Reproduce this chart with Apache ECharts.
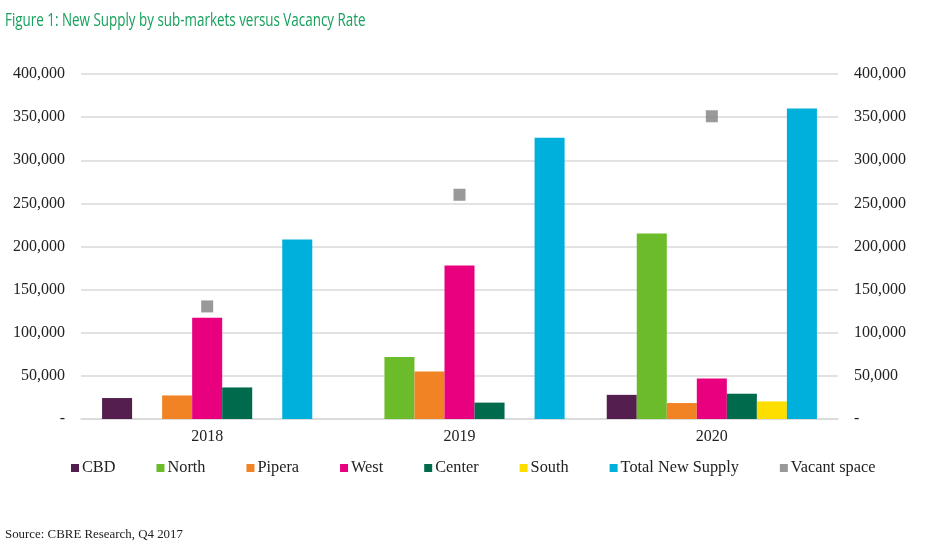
<!DOCTYPE html>
<html>
<head>
<meta charset="utf-8">
<script src="https://cdn.jsdelivr.net/npm/echarts@6/dist/echarts.min.js"></script>
<style>html,body{margin:0;padding:0;background:#fff}#c{width:942px;height:545px}</style>
</head>
<body>
<div id="c"></div>
<script>
var years = ['2018', '2019', '2020'];
var cbd = [24300, null, 28000];
var north = [null, 72000, 215000];
var pipera = [27300, 55000, 18500];
var west = [117500, 178000, 47000];
var center = [36600, 19000, 29300];
var south = [null, null, 20400];
var totalNewSupply = [208000, 326000, 360000];
var vacantSpace = [130500, 260000, 351000];
var yTicks = [0, 50000, 100000, 150000, 200000, 250000, 300000, 350000, 400000];

var colors = {
  cbd: '#541f4f', north: '#6cbb2a', pipera: '#f28325', west: '#e8007f',
  center: '#006a4d', south: '#fedd00', total: '#00b0dc', vacant: '#808080'
};
var serif = '"Liberation Serif", "DejaVu Serif", serif';

function fmt(v) {
  if (v === 0) return '-';
  return String(v).replace(/\B(?=(\d{3})+(?!\d))/g, ',');
}

function bar(name, data, color) {
  return {
    name: name, type: 'bar', data: data, barGap: '0%', barCategoryGap: '16.7%',
    itemStyle: { color: color }, yAxisIndex: 0
  };
}

var chart = echarts.init(document.getElementById('c'));
var yAxisBase = function (pos) {
  return {
    type: 'value', position: pos, min: yTicks[0], max: yTicks[yTicks.length - 1], interval: 50000,
    axisLine: { show: false }, axisTick: { show: false },
    splitLine: { show: pos === 'left', lineStyle: { color: '#d9d9d9', width: 1.5 } },
    axisLabel: { formatter: fmt, color: '#222', fontFamily: serif, fontSize: 16, margin: 16 }
  };
};
chart.setOption({
  animation: false,
  color: [colors.cbd, colors.north, colors.pipera, colors.west, colors.center, colors.south, colors.total, colors.vacant],
  graphic: [{
    type: 'text', x: 5, y: 12, scaleX: 0.745, originX: 0, originY: 0,
    style: {
      text: 'Figure 1: New Supply by sub-markets versus Vacancy Rate',
      fill: '#16a05c', font: 'normal 18px "Open Sans", sans-serif'
    }
  }],
  title: [{
    text: 'Source: CBRE Research, Q4 2017',
    left: 0, top: 523,
    textStyle: { color: '#222', fontSize: 12.9, fontWeight: 'normal', fontFamily: serif }
  }],
  legend: {
    left: 66, top: 455, itemWidth: 8, itemHeight: 8, itemGap: 41, icon: 'rect',
    textStyle: { color: '#222', fontFamily: serif, fontSize: 16.3, padding: [0, 0, 0, -2] },
    data: ['CBD', 'North', 'Pipera', 'West', 'Center', 'South', 'Total New Supply', 'Vacant space']
  },
  grid: { left: 81, right: 104, top: 74, bottom: 126 },
  xAxis: {
    type: 'category', data: years,
    axisLine: { show: true, lineStyle: { color: '#d9d9d9', width: 1.5 } },
    axisTick: { show: false },
    axisLabel: { color: '#222', fontFamily: serif, fontSize: 16, margin: 10 }
  },
  yAxis: [yAxisBase('left'), yAxisBase('right')],
  series: [
    bar('CBD', cbd, colors.cbd),
    bar('North', north, colors.north),
    bar('Pipera', pipera, colors.pipera),
    bar('West', west, colors.west),
    bar('Center', center, colors.center),
    bar('South', south, colors.south),
    bar('Total New Supply', totalNewSupply, colors.total),
    {
      name: 'Vacant space', type: 'scatter', yAxisIndex: 1, data: vacantSpace,
      symbol: 'rect', symbolSize: 12, itemStyle: { color: colors.vacant }
    }
  ]
});
</script>
</body>
</html>
